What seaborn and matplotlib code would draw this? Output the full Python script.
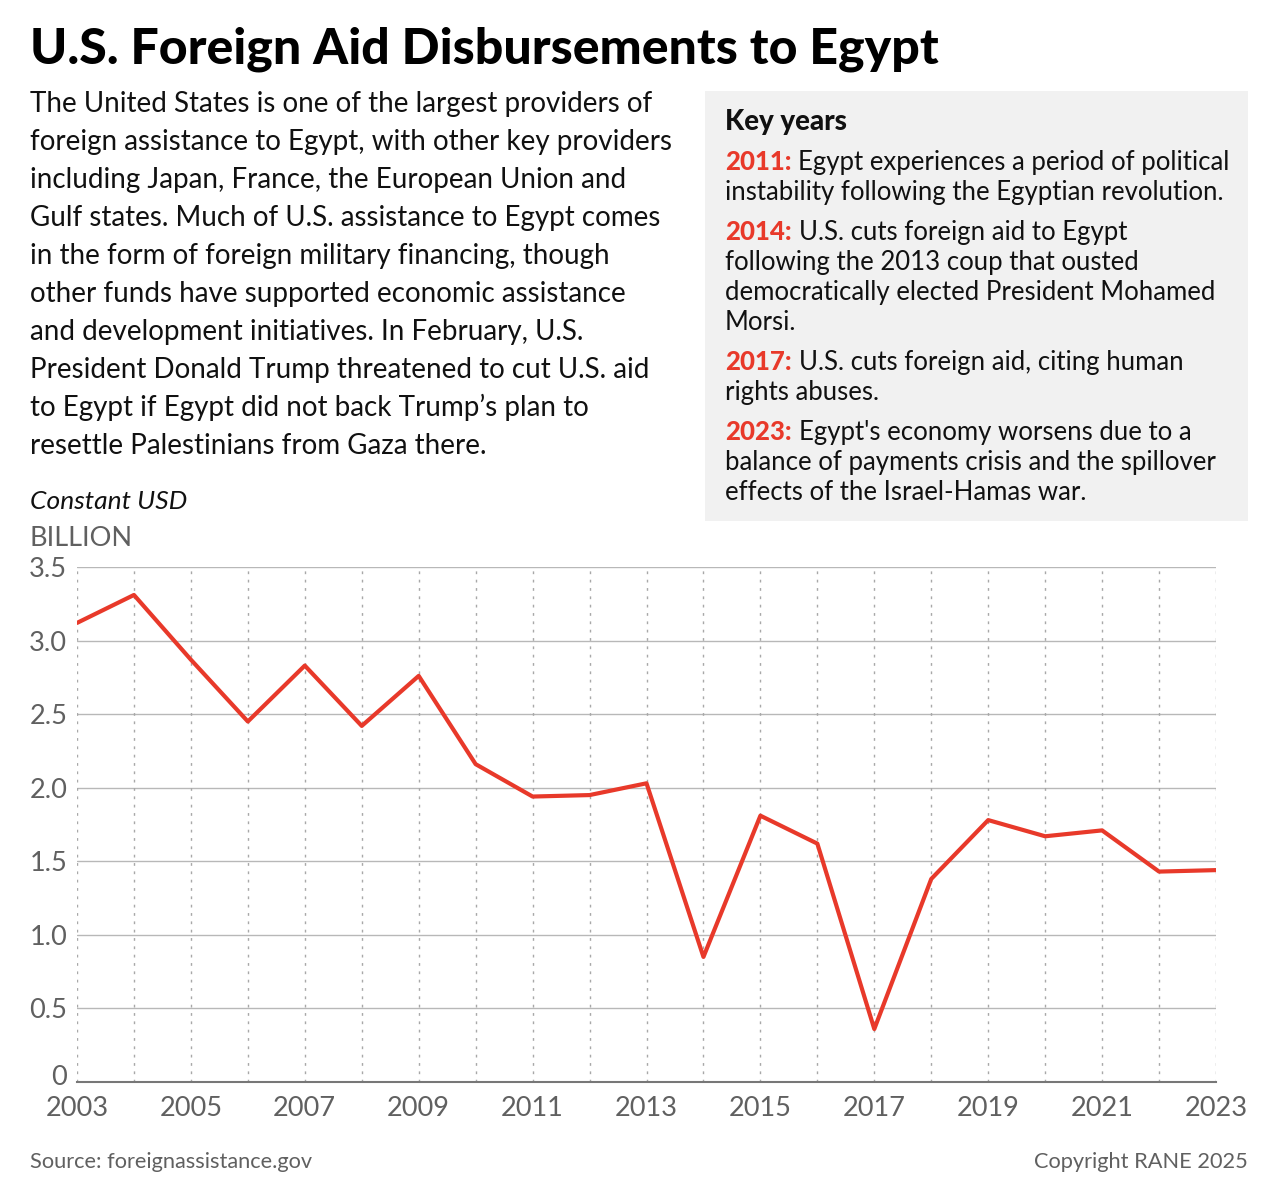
import matplotlib
matplotlib.use("Agg")
import matplotlib.pyplot as plt
import matplotlib.transforms as mtransforms
import pandas as pd
import seaborn as sns

years = list(range(2003, 2024))
aid_billion = [3.12, 3.31, 2.87, 2.45, 2.83, 2.42, 2.76, 2.16, 1.94, 1.95, 2.03,
               0.85, 1.81, 1.62, 0.36, 1.38, 1.78, 1.67, 1.71, 1.43, 1.44]
xtick_years = list(range(2003, 2024, 2))
ytick_values = [0, 0.5, 1.0, 1.5, 2.0, 2.5, 3.0, 3.5]
ytick_labels = ["0", "0.5", "1.0", "1.5", "2.0", "2.5", "3.0", "3.5"]

title = "U.S. Foreign Aid Disbursements to Egypt"
intro_lines = [
    "The United States is one of the largest providers of",
    "foreign assistance to Egypt, with other key providers",
    "including Japan, France, the European Union and",
    "Gulf states. Much of U.S. assistance to Egypt comes",
    "in the form of foreign military financing, though",
    "other funds have supported economic assistance",
    "and development initiatives. In February, U.S.",
    "President Donald Trump threatened to cut U.S. aid",
    "to Egypt if Egypt did not back Trump\u2019s plan to",
    "resettle Palestinians from Gaza there.",
]
key_years = ["2011:", "2014:", "2017:", "2023:"]
key_notes = [
    ["Egypt experiences a period of political",
     "instability following the Egyptian revolution."],
    ["U.S. cuts foreign aid to Egypt",
     "following the 2013 coup that ousted",
     "democratically elected President Mohamed",
     "Morsi."],
    ["U.S. cuts foreign aid, citing human",
     "rights abuses."],
    ["Egypt's economy worsens due to a",
     "balance of payments crisis and the spillover",
     "effects of the Israel-Hamas war."],
]

df = pd.DataFrame({"year": years, "aid": aid_billion})

RED = "#E8392A"
GRAY = "#606060"
W, H = 1280, 1194

sns.set_style("white")
plt.rcParams["font.family"] = ["Lato", "DejaVu Sans"]

fig = plt.figure(figsize=(W / 100, H / 100), dpi=100)
ax = fig.add_axes([77 / W, 1 - 1082 / H, (1216 - 77) / W, (1082 - 567) / H])


def px(x, y):
    return x / W, 1 - y / H


sns.lineplot(data=df, x="year", y="aid", ax=ax, color=RED, linewidth=3)

ax.set_xlim(2003, 2023)
ax.set_ylim(0, 3.5)
ax.set_xticks(xtick_years)
ax.set_xticklabels([str(y) for y in xtick_years])
ax.set_yticks(ytick_values)
ax.set_yticklabels(ytick_labels)
ax.set_xlabel("")
ax.set_ylabel("")
ax.tick_params(axis="both", length=0, labelsize=19.5, labelcolor=GRAY)
ax.tick_params(axis="y", pad=7)
ax.tick_params(axis="x", pad=10)

# the "0" label sits a little above the baseline in the original
lab0 = ax.get_yticklabels()[0]
lab0.set_transform(lab0.get_transform() + mtransforms.ScaledTranslation(0, 5 / 72, fig.dpi_scale_trans))

for y in ytick_values[1:]:
    ax.axhline(y, color="#b8b8b8", linewidth=1, zorder=0)
for yr in years:
    ax.axvline(yr, color="#a8a8a8", linewidth=1, linestyle=(0, (2, 4)), zorder=0)
for s in ["top", "right", "left"]:
    ax.spines[s].set_visible(False)
ax.spines["bottom"].set_color("#777777")
ax.spines["bottom"].set_linewidth(1.5)

# header
fig.text(*px(30, 64), title, fontsize=36, fontweight="black", va="baseline", color="black")
for i, line in enumerate(intro_lines):
    fig.text(*px(30, 112 + 38 * i), line, fontsize=20, va="baseline", color="#111111")

# key years box
box = plt.Rectangle(px(705, 521), (1248 - 705) / W, (521 - 91) / H,
                    transform=fig.transFigure, facecolor="#F1F1F1", edgecolor="none", zorder=0)
fig.patches.append(box)
fig.text(*px(725, 130), "Key years", fontsize=20, fontweight="black", va="baseline", color="#111111")

renderer = fig.canvas.get_renderer()
y = 170
for yr, note in zip(key_years, key_notes):
    t = fig.text(*px(725, y), yr, fontsize=18.5, fontweight="black", color=RED, va="baseline")
    x_end = t.get_window_extent(renderer).x1
    for j, line in enumerate(note):
        if j == 0:
            fig.text((x_end + 7) / W, 1 - y / H, line, fontsize=18.5, va="baseline", color="#111111")
        else:
            fig.text(*px(725, y + 30 * j), line, fontsize=18.5, va="baseline", color="#111111")
    y += 30 * len(note) + 10

fig.text(*px(30, 509), "Constant USD", fontsize=19, fontstyle="italic", va="baseline", color="#111111")
fig.text(*px(30, 546), "BILLION", fontsize=19.5, va="baseline", color=GRAY)

fig.text(*px(30, 1168), "Source: foreignassistance.gov", fontsize=15.7, va="baseline", color=GRAY)
fig.text(*px(1248, 1168), "Copyright RANE 2025", fontsize=15.7, va="baseline", ha="right", color=GRAY)

fig.savefig("out.png", dpi=100, facecolor="white")
